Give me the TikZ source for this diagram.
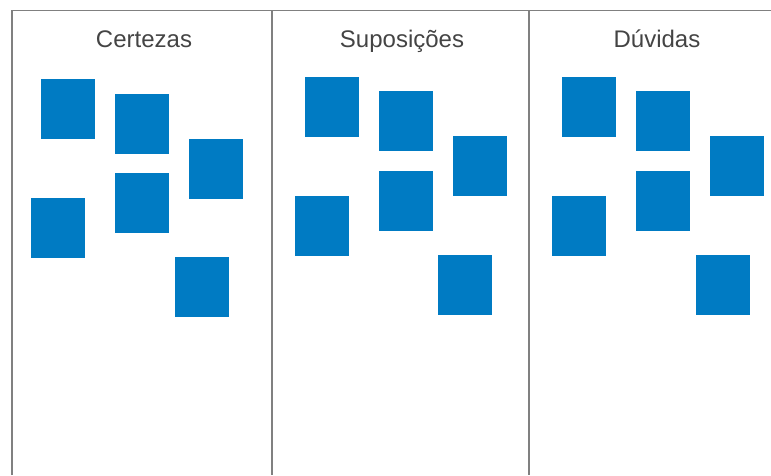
\documentclass[tikz,border=0pt]{standalone}
\usepackage{fontspec}
\setmainfont{Liberation Sans}
\usepackage{tikz}
\definecolor{noteblue}{RGB}{0,123,195}
\definecolor{framegray}{RGB}{128,128,128}
\definecolor{headgray}{RGB}{68,68,68}

\begin{document}
\begin{tikzpicture}[x=1pt, y=-1pt]
        \tikzset{note/.style={rectangle, fill=noteblue, minimum width=54pt, minimum height=60pt, inner sep=0pt, outer sep=0pt},
                 head/.style={text=headgray, font=\fontsize{24}{28}\selectfont, anchor=base},
                 frame/.style={draw=framegray, line width=1.5pt}}
        \useasboundingbox (0,0) rectangle (771,475);
        % board lines
        \draw[frame] (12,475) -- (12,10.5) -- (771,10.5);
        \draw[frame] (272,10.5) -- (272,475);
        \draw[frame] (529,10.5) -- (529,475);
        % headings
        \node[head] (certezas) at (144,47) {Certezas};
        \node[head] (suposicoes) at (402,47) {Suposições};
        \node[head] (duvidas) at (657,47) {Dúvidas};
        % Certezas
        \node[note] (cert1) at (68,109) {};
        \node[note] (cert2) at (142,124) {};
        \node[note] (cert3) at (216,169) {};
        \node[note] (cert4) at (58,228) {};
        \node[note] (cert5) at (142,203) {};
        \node[note] (cert6) at (202,287) {};
        % Suposicoes
        \node[note] (supo1) at (332,107) {};
        \node[note] (supo2) at (406,121) {};
        \node[note] (supo3) at (480,166) {};
        \node[note] (supo4) at (322,226) {};
        \node[note] (supo5) at (406,201) {};
        \node[note] (supo6) at (465,285) {};
        % Duvidas
        \node[note] (duvi1) at (589,107) {};
        \node[note] (duvi2) at (663,121) {};
        \node[note] (duvi3) at (737,166) {};
        \node[note] (duvi4) at (579,226) {};
        \node[note] (duvi5) at (663,201) {};
        \node[note] (duvi6) at (723,285) {};
    \end{tikzpicture}
\end{document}
